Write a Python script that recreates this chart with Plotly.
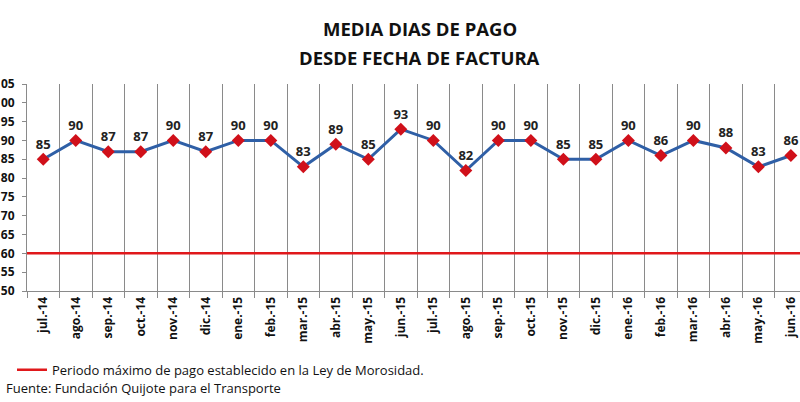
import plotly.graph_objects as go

categories = ["jul.-14", "ago.-14", "sep.-14", "oct.-14", "nov.-14", "dic.-14",
              "ene.-15", "feb.-15", "mar.-15", "abr.-15", "may.-15", "jun.-15",
              "jul.-15", "ago.-15", "sep.-15", "oct.-15", "nov.-15", "dic.-15",
              "ene.-16", "feb.-16", "mar.-16", "abr.-16", "may.-16", "jun.-16"]
dias_pago = [85, 90, 87, 87, 90, 87, 90, 90, 83, 89, 85, 93,
             90, 82, 90, 90, 85, 85, 90, 86, 90, 88, 83, 86]
limite_legal = 60
y_ticks = list(range(50, 106, 5))

FONT = "Open Sans"

fig = go.Figure()
fig.add_trace(go.Scatter(
    x=categories, y=dias_pago, mode="lines+markers+text",
    line=dict(color="#2f5fa6", width=3),
    marker=dict(symbol="diamond", size=10, color="#d0101a"),
    text=[str(v) for v in dias_pago], textposition="top center",
    textfont=dict(family=FONT, size=13, color="#222222", weight="bold"),
    showlegend=False, cliponaxis=False,
))

fig.add_shape(type="line", xref="paper", x0=0, x1=1, yref="y",
              y0=limite_legal, y1=limite_legal,
              line=dict(color="#e0181b", width=2.5),
              showlegend=True,
              name="Periodo máximo de pago establecido en la Ley de Morosidad.")

fig.update_layout(
    width=800, height=402,
    margin=dict(l=27, r=0, t=84, b=111, autoexpand=False),
    paper_bgcolor="white", plot_bgcolor="white",
    font=dict(family=FONT, color="#222222"),
    legend=dict(xref="container", yref="container", x=0.015, xanchor="left",
                y=0.08, yanchor="middle",
                orientation="h", font=dict(family=FONT, size=13, color="#111111"),
                bgcolor="rgba(0,0,0,0)"),
    xaxis=dict(type="category", range=[-0.5, 23.28], automargin=False,
               tickson="boundaries", showgrid=True, gridcolor="#8a8a8a", gridwidth=1,
               ticks="outside", ticklen=6, tickcolor="#8a8a8a",
               showline=True, linecolor="#8a8a8a", linewidth=1,
               tickangle=-90,
               tickfont=dict(family=FONT, size=12, color="#111111", weight="bold")),
    yaxis=dict(range=[50, 105], tickvals=y_ticks, showgrid=False, zeroline=False,
               automargin=False, ticklabelstandoff=5,
               ticks="outside", ticklen=4, tickcolor="#8a8a8a",
               showline=True, linecolor="#8a8a8a", linewidth=1,
               tickfont=dict(family=FONT, size=12, color="#111111", weight="bold")),
)

title_lines = ["MEDIA DIAS DE PAGO", "DESDE FECHA DE FACTURA"]
for line_text, ypos in zip(title_lines, [1.27, 1.13]):
    fig.add_annotation(text="<b>" + line_text + "</b>", xref="paper", yref="paper",
                       x=0.508, y=ypos, xanchor="center", yanchor="middle",
                       showarrow=False,
                       font=dict(family=FONT, size=18.5, color="#111111"))

fig.add_annotation(text="Fuente: Fundación Quijote para el Transporte",
                   xref="paper", yref="paper", x=-0.03, y=-0.469,
                   xanchor="left", yanchor="middle", showarrow=False,
                   font=dict(family=FONT, size=13, color="#111111"))

fig.write_html("out.html", config={"displayModeBar": False},
               post_script="document.body.style.margin='0';document.body.style.padding='0';")
